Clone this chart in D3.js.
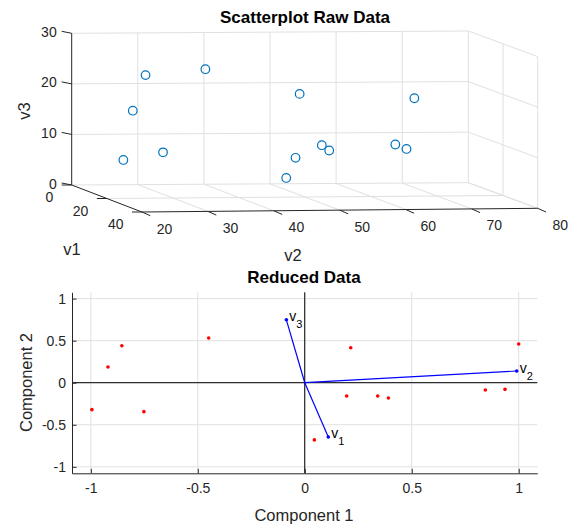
<!DOCTYPE html>
<html lang="en">
<head>
<meta charset="UTF-8">
<title>Scatterplot Raw Data / Reduced Data</title>
<script src="https://d3js.org/d3.v7.min.js"></script>
<style>
  body { margin: 0; background: #fff; }
  svg { display: block; font-family: "Liberation Sans", Arial, Helvetica, sans-serif; }
</style>
</head>
<body>
<svg width="575" height="529"></svg>
<script>
// raw data: 13 observations of v1, v2, v3
const rawV1 = [20, 25, 30, 30, 28, 38, 15, 20, 10, 15, 12, 15, 18];
const rawV2 = [22.5, 22.6, 23.2, 25.85, 32.8, 42.4, 49.9, 49.2, 55.2, 55.0, 65.8, 66.7, 67.1];
const rawV3 = [7.6, 18.0, 25.7, 10.4, 26.5, 6.2, 7.1, 20.4, 8.9, 8.5, 9.2, 8.7, 19.1];

// scores on the first two components
const score1 = [-0.995, -0.92, -0.855, -0.752, -0.449, 0.045, 0.196, 0.215, 0.341, 0.391, 0.844, 0.936, 1.0];
const score2 = [-0.32, 0.186, 0.44, -0.344, 0.531, -0.68, -0.158, 0.416, -0.158, -0.182, -0.087, -0.079, 0.46];

// variable loadings
const varIdx = ["1", "2", "3"];
const load1 = [0.11, 0.991, -0.086];
const load2 = [-0.645, 0.139, 0.748];

const v1Ticks = [0, 20, 40];
const v2Ticks = [20, 30, 40, 50, 60, 70, 80];
const v3Ticks = [0, 10, 20, 30];
const compTicks = [-1, -0.5, 0, 0.5, 1];

const svg = d3.select("svg");
const ink = "#262626", gridCol = "#e0e0e0";

// ---------- top: 3-D scatter ----------
// floor corners of the box, [v1 min/max][v2 min/max]
const c00 = [71.7, 185], c01 = [468.3, 182.7], c10 = [142, 212], c11 = [537.7, 208.3];
const s1 = d3.scaleLinear().domain([0, 40]).range([0, 1]);
const s2 = d3.scaleLinear().domain([20, 80]).range([0, 1]);
const s3 = d3.scaleLinear().domain([0, 30]).range([0, 151.7]);

function proj(a, b, c) {
  const u = s1(a), w = s2(b);
  const px = (1 - u) * (1 - w) * c00[0] + (1 - u) * w * c01[0] + u * (1 - w) * c10[0] + u * w * c11[0];
  const py = (1 - u) * (1 - w) * c00[1] + (1 - u) * w * c01[1] + u * (1 - w) * c10[1] + u * w * c11[1];
  return [px, py - s3(c)];
}

const g3d = svg.append("g");
const seg = (p, q, col, w) => g3d.append("line")
  .attr("x1", p[0]).attr("y1", p[1]).attr("x2", q[0]).attr("y2", q[1])
  .attr("stroke", col).attr("stroke-width", w || 1);

// back wall (v1 = 0)
v2Ticks.slice(1).forEach(t => seg(proj(0, t, 0), proj(0, t, 30), gridCol));
v3Ticks.forEach(t => seg(proj(0, 20, t), proj(0, 80, t), gridCol));
// side wall (v2 = 80)
v1Ticks.slice(1).forEach(t => seg(proj(t, 80, 0), proj(t, 80, 30), gridCol));
v3Ticks.forEach(t => seg(proj(0, 80, t), proj(40, 80, t), gridCol));
// floor
seg(proj(20, 20, 0), proj(20, 80, 0), gridCol);
v2Ticks.slice(1).forEach(t => seg(proj(0, t, 0), proj(40, t, 0), gridCol));

// axes
seg(proj(0, 20, 0), proj(0, 20, 30), ink);
seg(proj(0, 20, 0), proj(40, 20, 0), ink);
seg(proj(40, 20, 0), proj(40, 80, 0), ink);

const tickFont = 14;
v3Ticks.forEach(t => {
  const p = proj(0, 20, t);
  seg([p[0] - 10, p[1] - 2], p, ink);
  g3d.append("text").attr("x", p[0] - 15).attr("y", p[1] - 1.5)
    .attr("text-anchor", "end").attr("dominant-baseline", "central")
    .attr("font-size", tickFont).attr("fill", ink).text(t);
});
v1Ticks.forEach(t => {
  const p = proj(t, 20, 0);
  seg([p[0] - 10, p[1]], p, ink);
  g3d.append("text").attr("x", p[0] - 18.5).attr("y", p[1] + 12)
    .attr("text-anchor", "end").attr("dominant-baseline", "central")
    .attr("font-size", tickFont).attr("fill", ink).text(t);
});
v2Ticks.forEach(t => {
  const p = proj(40, t, 0);
  seg(p, [p[0] + 8.3, p[1] + 3.7], ink);
  g3d.append("text").attr("x", p[0] + 22.5).attr("y", p[1] + 16.5)
    .attr("text-anchor", "middle").attr("dominant-baseline", "central")
    .attr("font-size", tickFont).attr("fill", ink).text(t);
});

// points
g3d.selectAll("circle.raw")
  .data(rawV1.map((d, i) => proj(d, rawV2[i], rawV3[i])))
  .enter().append("circle")
  .attr("class", "raw")
  .attr("cx", d => d[0]).attr("cy", d => d[1]).attr("r", 4.3)
  .attr("fill", "none").attr("stroke", "#0072bd").attr("stroke-width", 1.2);

// labels and title
g3d.append("text").attr("x", 305).attr("y", 23).attr("text-anchor", "middle")
  .attr("font-size", 17).attr("font-weight", "bold").attr("fill", "#000")
  .text("Scatterplot Raw Data");
g3d.append("text").attr("transform", "translate(30,111) rotate(-90)")
  .attr("text-anchor", "middle").attr("font-size", 16.5).attr("fill", ink).text("v3");
g3d.append("text").attr("x", 72).attr("y", 255).attr("text-anchor", "middle")
  .attr("font-size", 16.5).attr("fill", ink).text("v1");
g3d.append("text").attr("x", 293).attr("y", 261).attr("text-anchor", "middle")
  .attr("font-size", 16.5).attr("fill", ink).text("v2");

// ---------- bottom: biplot ----------
const x = d3.scaleLinear().domain([-1.088, 1.087]).range([72, 537.3]);
const y = d3.scaleLinear().domain([-1.077, 1.075]).range([473.3, 292.3]);
const bot = svg.append("g");

bot.selectAll("line.gx").data(compTicks).enter().append("line")
  .attr("x1", d => x(d)).attr("x2", d => x(d)).attr("y1", y.range()[1]).attr("y2", y.range()[0])
  .attr("stroke", gridCol);
bot.selectAll("line.gy").data(compTicks).enter().append("line")
  .attr("x1", x.range()[0]).attr("x2", x.range()[1]).attr("y1", d => y(d)).attr("y2", d => y(d))
  .attr("stroke", gridCol);

// zero lines
bot.append("line").attr("x1", x(0)).attr("x2", x(0)).attr("y1", y.range()[1]).attr("y2", y.range()[0])
  .attr("stroke", "#000");
bot.append("line").attr("x1", x.range()[0]).attr("x2", x.range()[1]).attr("y1", y(0)).attr("y2", y(0))
  .attr("stroke", "#000");

const xAxis = bot.append("g").attr("transform", `translate(0,${y.range()[0]})`)
  .call(d3.axisBottom(x).tickValues(compTicks).tickFormat(d => String(d))
    .tickSize(-4.5).tickSizeOuter(0).tickPadding(10));
const yAxis = bot.append("g").attr("transform", `translate(${x.range()[0]},0)`)
  .call(d3.axisLeft(y).tickValues(compTicks).tickFormat(d => String(d))
    .tickSize(-4.5).tickSizeOuter(0).tickPadding(6));
[xAxis, yAxis].forEach(a => {
  a.selectAll("path, line").attr("stroke", ink);
  a.selectAll("text").attr("font-size", tickFont).attr("fill", ink)
    .attr("font-family", "'Liberation Sans', Arial, sans-serif");
});

// loading vectors
load1.forEach((d, i) => {
  bot.append("line").attr("x1", x(0)).attr("y1", y(0)).attr("x2", x(d)).attr("y2", y(load2[i]))
    .attr("stroke", "#0000ff").attr("stroke-width", 1.2);
  bot.append("circle").attr("cx", x(d)).attr("cy", y(load2[i])).attr("r", 1.8).attr("fill", "#0000ff");
  const t = bot.append("text").attr("x", x(d) + 3).attr("y", y(load2[i]) + 1.5)
    .attr("font-size", 14).attr("fill", "#000");
  t.append("tspan").text("v");
  t.append("tspan").attr("font-size", 11).attr("dy", 7).text(varIdx[i]);
});

// scores
bot.selectAll("circle.score").data(score1).enter().append("circle")
  .attr("class", "score")
  .attr("cx", d => x(d)).attr("cy", (d, i) => y(score2[i])).attr("r", 1.8)
  .attr("fill", "#ff0000");

bot.append("text").attr("x", 304).attr("y", 283).attr("text-anchor", "middle")
  .attr("font-size", 17).attr("font-weight", "bold").attr("fill", "#000").text("Reduced Data");
bot.append("text").attr("x", 304).attr("y", 521).attr("text-anchor", "middle")
  .attr("font-size", 16.5).attr("fill", ink).text("Component 1");
bot.append("text").attr("transform", "translate(32,382.5) rotate(-90)")
  .attr("text-anchor", "middle").attr("font-size", 16.5).attr("fill", ink).text("Component 2");
</script>
</body>
</html>
